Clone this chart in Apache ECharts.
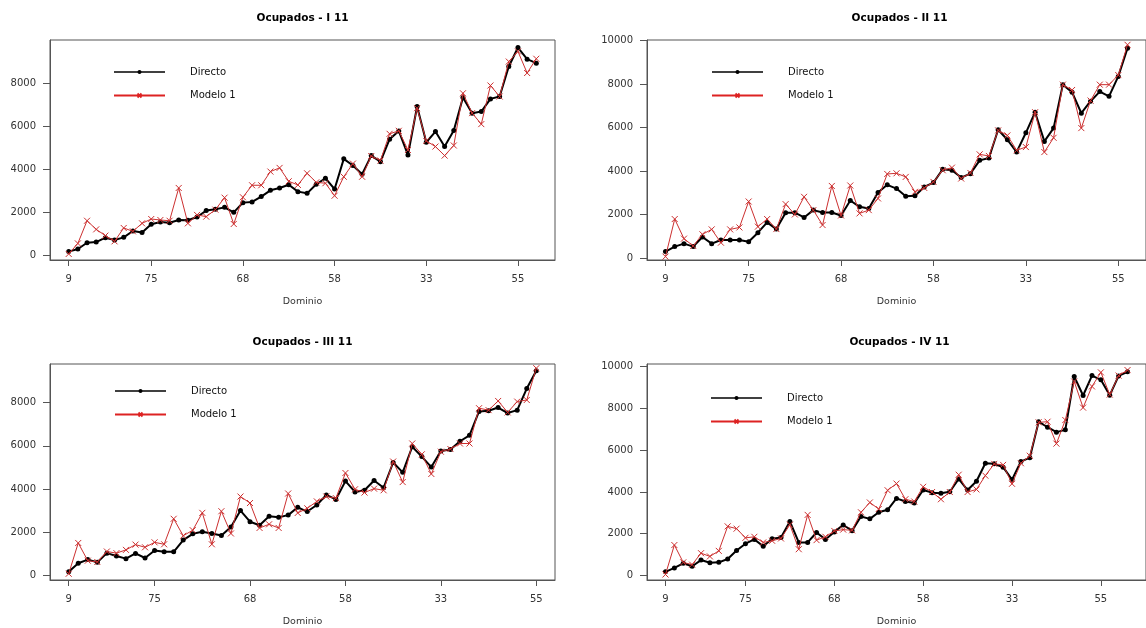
<!DOCTYPE html>
<html>
<head>
<meta charset="utf-8">
<script src="https://cdn.jsdelivr.net/npm/echarts@6/dist/echarts.min.js"></script>
<style>
  html, body { margin: 0; padding: 0; background: #fff; }
  #chart { width: 1146px; height: 628px; }
</style>
</head>
<body>
<div id="chart"></div>
<script>
// Tick positions on the Dominio axis and their labels
const tickPos = [1, 10, 20, 30, 40, 50];
const tickLabels = ['9', '75', '68', '58', '33', '55'];
const yTicksShort = [0, 2000, 4000, 6000, 8000];
const yTicksLong = [0, 2000, 4000, 6000, 8000, 10000];

const titles = ['Ocupados - I 11', 'Ocupados - II 11', 'Ocupados - III 11', 'Ocupados - IV 11'];
const seriesNames = ['Directo', 'Modelo 1'];

// Ocupados - I 11
const directoI = [190, 310, 600, 630, 835, 730, 850, 1145, 1070, 1455,
  1560, 1530, 1655, 1640, 1795, 2090, 2150, 2240, 2010, 2460,
  2490, 2740, 3030, 3140, 3290, 2970, 2890, 3310, 3590, 3090,
  4490, 4180, 3775, 4640, 4360, 5400, 5785, 4670, 6915, 5260,
  5755, 5060, 5800, 7330, 6605, 6680, 7270, 7380, 8770, 9650,
  9110, 8925];
const modeloI = [80, 570, 1620, 1220, 930, 665, 1285, 1130, 1500, 1700,
  1655, 1620, 3140, 1500, 1890, 1810, 2135, 2690, 1470, 2710,
  3265, 3265, 3900, 4070, 3450, 3280, 3820, 3400, 3360, 2780,
  3660, 4270, 3660, 4620, 4410, 5650, 5790, 4900, 6840, 5320,
  5060, 4640, 5110, 7530, 6610, 6100, 7890, 7380, 9000, 9470,
  8470, 9130];

// Ocupados - II 11
const directoII = [305, 535, 670, 535, 975, 670, 840, 840, 840, 760,
  1175, 1645, 1340, 2090, 2090, 1875, 2210, 2100, 2100, 1965,
  2650, 2360, 2285, 3020, 3370, 3200, 2850, 2865, 3275, 3475,
  4085, 4040, 3705, 3885, 4495, 4600, 5900, 5440, 4875, 5760,
  6705, 5365, 5975, 7970, 7620, 6660, 7210, 7650, 7435, 8350,
  9645];
const modeloII = [75, 1800, 900, 565, 1100, 1325, 715, 1325, 1415, 2605,
  1450, 1800, 1340, 2485, 2010, 2820, 2210, 1525, 3320, 1965,
  3340, 2060, 2210, 2745, 3870, 3900, 3735, 3050, 3230, 3505,
  4040, 4160, 3660, 3915, 4770, 4695, 5870, 5640, 4955, 5105,
  6705, 4875, 5530, 7970, 7725, 5975, 7240, 7970, 7970, 8410,
  9800];

// Ocupados - III 11
const directoIII = [165, 560, 730, 605, 1030, 895, 775, 1015, 805, 1150,
  1090, 1090, 1635, 1925, 2015, 1940, 1850, 2240, 3000, 2485,
  2320, 2740, 2695, 2790, 3150, 2955, 3260, 3725, 3515, 4365,
  3865, 3940, 4395, 4060, 5225, 4770, 5955, 5500, 5015, 5755,
  5830, 6210, 6485, 7590, 7620, 7770, 7515, 7650, 8650, 9470];
const modeloIII = [75, 1500, 680, 620, 1105, 1030, 1180, 1425, 1300, 1530,
  1440, 2620, 1835, 2090, 2895, 1440, 2970, 1940, 3650, 3350,
  2195, 2365, 2195, 3790, 2890, 3105, 3425, 3650, 3575, 4740,
  3985, 3835, 4015, 3940, 5270, 4320, 6105, 5605, 4695, 5725,
  5850, 6105, 6105, 7740, 7650, 8075, 7545, 8045, 8120, 9590];

// Ocupados - IV 11
const directoIV = [170, 360, 580, 440, 735, 610, 625, 785, 1190, 1520,
  1725, 1395, 1755, 1820, 2585, 1580, 1580, 2055, 1725, 2085,
  2415, 2145, 2820, 2710, 3025, 3145, 3690, 3540, 3465, 4090,
  3965, 3935, 4010, 4620, 4090, 4515, 5375, 5345, 5185, 4590,
  5455, 5640, 7365, 7100, 6865, 6975, 9530, 8620, 9575, 9370,
  8635, 9560, 9760];
const modeloIV = [45, 1455, 625, 515, 1065, 910, 1175, 2350, 2240, 1800,
  1850, 1580, 1660, 1770, 2430, 1255, 2900, 1690, 1850, 2130,
  2195, 2160, 3025, 3495, 3180, 4080, 4400, 3650, 3540, 4245,
  3995, 3650, 3995, 4825, 3995, 4120, 4780, 5345, 5295, 4390,
  5375, 5735, 7335, 7365, 6315, 7445, 9290, 8040, 9055, 9730,
  8665, 9575, 9840];

// panel layout (pixels) and y ranges as drawn in the original
const panels = [
  { directo: directoI, modelo: modeloI, yTicks: yTicksShort, left: 50, top: 40, yMin: -200, yMax: 10000, legendLeft: 113, legendTop: 67 },
  { directo: directoII, modelo: modeloII, yTicks: yTicksLong, left: 647, top: 40, yMin: -80, yMax: 10020, legendLeft: 711, legendTop: 67 },
  { directo: directoIII, modelo: modeloIII, yTicks: yTicksShort, left: 50, top: 364, yMin: -214, yMax: 9786, legendLeft: 114, legendTop: 386 },
  { directo: directoIV, modelo: modeloIV, yTicks: yTicksLong, left: 647, top: 364, yMin: -220, yMax: 10130, legendLeft: 710, legendTop: 393 }
];

const RED = '#dd2222';
const RED_PLOT = '#cc3030';
const FONT = '"DejaVu Sans", "Liberation Sans", sans-serif';
const GRID_W = 505;
const GRID_H = 220;
const crossSymbol = 'path://M0,0L10,10M10,0L0,10';

const toPoints = (arr) => arr.map((v, i) => [i + 1, v]);

const option = {
  backgroundColor: '#fff',
  animation: false,
  title: [],
  legend: [],
  grid: [],
  xAxis: [],
  yAxis: [],
  series: []
};

panels.forEach((p, k) => {
  const n = p.directo.length;
  const pad = 0.04 * (n - 1);

  option.title.push({
    text: titles[k],
    left: p.left + GRID_W / 2,
    top: p.top - 27,
    textAlign: 'center',
    padding: 0,
    textStyle: { fontFamily: FONT, fontSize: 10.5, fontWeight: 'bold', color: '#000' }
  });

  option.legend.push({
    orient: 'vertical',
    left: p.legendLeft,
    top: p.legendTop,
    padding: 0,
    itemWidth: 51,
    itemHeight: 5,
    itemGap: 13.5,
    data: [
      {
        name: seriesNames[0],
        lineStyle: { color: '#000', width: 1.5 },
        itemStyle: { color: '#000' }
      },
      {
        name: seriesNames[1],
        lineStyle: { color: RED, width: 2 },
        itemStyle: { color: 'none', borderColor: RED, borderWidth: 1.8 }
      }
    ],
    textStyle: { fontFamily: FONT, fontSize: 10, color: '#111', padding: [0, 0, 0, 20] }
  });

  option.grid.push({
    left: p.left,
    top: p.top,
    width: GRID_W,
    height: GRID_H,
    show: true,
    borderColor: '#555',
    borderWidth: 1,
    backgroundColor: 'transparent'
  });

  option.xAxis.push({
    type: 'value',
    gridIndex: k,
    min: 1 - pad,
    max: n + pad,
    name: 'Dominio',
    nameLocation: 'middle',
    nameGap: 37,
    nameTextStyle: { fontFamily: FONT, fontSize: 9.5, color: '#333' },
    axisLine: { show: true, onZero: false, lineStyle: { color: '#555', width: 1 } },
    splitLine: { show: false },
    axisTick: { show: true, inside: false, length: 6, lineStyle: { color: '#555' }, customValues: tickPos },
    axisLabel: {
      customValues: tickPos,
      margin: 14,
      fontFamily: FONT,
      fontSize: 10,
      color: '#333',
      formatter: (v) => tickLabels[tickPos.indexOf(v)]
    }
  });

  option.yAxis.push({
    type: 'value',
    gridIndex: k,
    min: p.yMin,
    max: p.yMax,
    axisLine: { show: true, onZero: false, lineStyle: { color: '#555', width: 1 } },
    splitLine: { show: false },
    axisTick: { show: true, inside: false, length: 7, lineStyle: { color: '#555' }, customValues: p.yTicks },
    axisLabel: {
      customValues: p.yTicks,
      margin: 14,
      fontFamily: FONT,
      fontSize: 10,
      color: '#333',
      formatter: (v) => String(v)
    }
  });

  option.series.push({
    name: seriesNames[0],
    type: 'line',
    xAxisIndex: k,
    yAxisIndex: k,
    data: toPoints(p.directo),
    symbol: 'circle',
    symbolSize: 5,
    lineStyle: { color: '#000', width: 2 },
    itemStyle: { color: '#000' },
    z: 2
  });

  option.series.push({
    name: seriesNames[1],
    type: 'line',
    xAxisIndex: k,
    yAxisIndex: k,
    data: toPoints(p.modelo),
    symbol: crossSymbol,
    symbolSize: 6,
    lineStyle: { color: RED_PLOT, width: 1 },
    itemStyle: { color: 'none', borderColor: RED_PLOT, borderWidth: 1 },
    z: 3
  });
});

const chart = echarts.init(document.getElementById('chart'), null, { renderer: 'canvas' });
chart.setOption(option);
</script>
</body>
</html>
